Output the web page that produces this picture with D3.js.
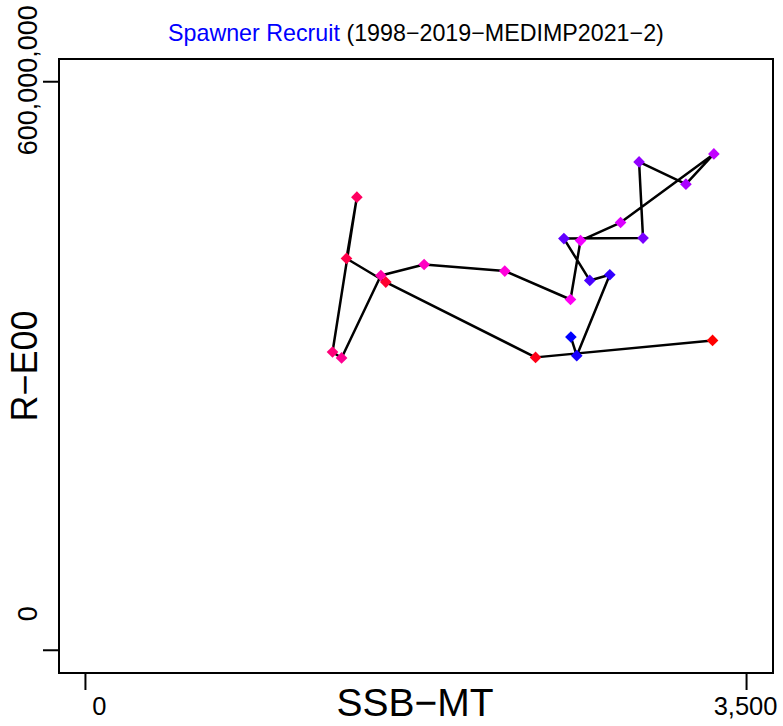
<!DOCTYPE html>
<html><head><meta charset="utf-8">
<script src="https://cdn.jsdelivr.net/npm/d3@7"></script>
<style>body{margin:0;background:#fff}svg{display:block}text{font-family:"Liberation Sans",Arial,sans-serif}</style>
</head><body>
<script>
const years = d3.range(1998, 2020);
const ssb = [2570,2601,2776,2670,2533,2952,2931,3179,3327,2833,2621,2568,2220,1793,1564,1356,1308,1437,1382,1590,2383,3320];
const recruits = [330.6,310.9,396.3,390.3,434.5,435.0,515.4,491.9,523.8,451.4,432.4,370.2,400.2,407.1,395.5,308.5,314.8,478.2,413.5,388.6,309.1,327.0].map(v => v*1e6);
const xTicks = [0, 3500];
const yTicks = [0, 600000000];
const titleMain = "Spawner Recruit";
const titleSub = " (1998\u22122019\u2212MEDIMP2021\u22122)";
const xLabel = "SSB\u2212MT";
const yLabel = "R\u2212E00";

const W = 783, H = 726;
const box = {l:59, r:773, t:59, b:673};
const svg = d3.select("body").append("svg").attr("width", W).attr("height", H);

const x = d3.scaleLinear().domain([-140, 3640]).range([box.l, box.r]);
const y = d3.scaleLinear().domain([-24e6, 624e6]).range([box.b, box.t]);
const col = d3.scaleLinear().domain([0, 0.5, 1]).range(["blue", "magenta", "red"]);

// box
svg.append("rect").attr("x", box.l).attr("y", box.t).attr("width", box.r-box.l).attr("height", box.b-box.t)
  .attr("fill", "none").attr("stroke", "#000").attr("stroke-width", 2);

// x ticks
svg.selectAll(".xt").data(xTicks).enter().append("line")
  .attr("x1", d => x(d)).attr("x2", d => x(d)).attr("y1", box.b).attr("y2", box.b + 17)
  .attr("stroke", "#000").attr("stroke-width", 2);
const fmt = d3.format(",");
svg.selectAll(".xl").data(xTicks).enter().append("text")
  .attr("x", (d, i) => x(d) + (i === 0 ? 14 : -1)).attr("y", 715)
  .attr("text-anchor", "middle").attr("font-size", 25.5).text(d => fmt(d));

// y ticks
svg.selectAll(".yt").data(yTicks).enter().append("line")
  .attr("y1", d => y(d)).attr("y2", d => y(d)).attr("x1", box.l).attr("x2", box.l - 16)
  .attr("stroke", "#000").attr("stroke-width", 2);
svg.selectAll(".yl").data(yTicks).enter().append("text")
  .attr("transform", (d, i) => `translate(37,${y(d) + (i === 0 ? -36.5 : -1.5)}) rotate(-90)`)
  .attr("text-anchor", "middle").attr("font-size", 27).text(d => fmt(d));

// axis titles
svg.append("text").attr("x", 415).attr("y", 716).attr("text-anchor", "middle")
  .attr("font-size", 39).text(xLabel);
svg.append("text").attr("transform", "translate(37,366) rotate(-90)").attr("text-anchor", "middle")
  .attr("font-size", 36).text(yLabel);

// title
const tt = svg.append("text").attr("y", 41).attr("font-size", 23);
tt.append("tspan").attr("fill", "blue").text(titleMain);
tt.append("tspan").attr("fill", "#000").text(titleSub);
const tw = tt.node().getComputedTextLength();
const sx = 496 / tw;
tt.attr("transform", `translate(168,0) scale(${sx},1)`).attr("x", 0);

// data
const data = years.map((yr, i) => ({yr, s: ssb[i], r: recruits[i], i}));
const line = d3.line().x(d => x(d.s)).y(d => y(d.r));
svg.append("path").datum(data).attr("d", line).attr("fill", "none")
  .attr("stroke", "#000").attr("stroke-width", 2.5).attr("stroke-linejoin", "round");

const sym = d3.symbol(d3.symbolSquare, 68);
svg.selectAll(".pt").data(data).enter().append("path")
  .attr("d", sym)
  .attr("transform", d => `translate(${x(d.s)},${y(d.r)}) rotate(45)`)
  .attr("fill", d => col(d.i / (data.length - 1)));
</script>
</body></html>
